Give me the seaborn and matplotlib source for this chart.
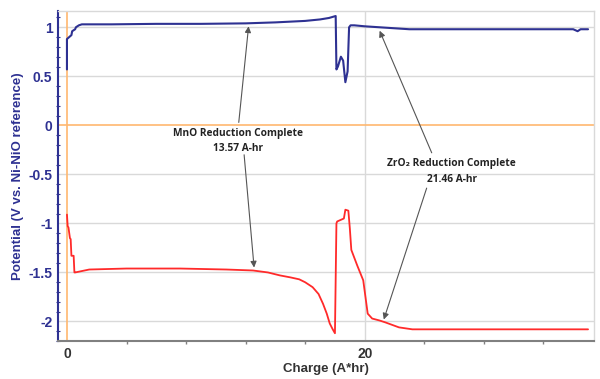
import matplotlib
matplotlib.use("Agg")
import matplotlib.pyplot as plt
import seaborn as sns
import pandas as pd
import numpy as np
from matplotlib.ticker import MultipleLocator, FixedLocator

# ---- data ----
blue_x = [0, 0, 0.15, 0.3, 0.35, 0.55, 0.6, 0.8, 1.0, 3, 6, 9, 12, 14, 16, 17, 17.6,
          18.05, 18.1, 18.2, 18.4, 18.55, 18.7, 18.85, 18.95, 19.05, 19.3, 20, 21, 22,
          23, 24.4, 27, 30, 32, 34, 34.3, 34.5, 35]
blue_y = [0.57, 0.88, 0.90, 0.92, 0.96, 0.98, 1.0, 1.02, 1.03, 1.03, 1.035, 1.035, 1.04,
          1.05, 1.065, 1.08, 1.095, 1.115, 0.57, 0.60, 0.70, 0.66, 0.44, 0.55, 1.00, 1.02,
          1.02, 1.01, 1.0, 0.99, 0.98, 0.98, 0.98, 0.98, 0.98, 0.98, 0.96, 0.98, 0.98]

red_x = [0, 0.05, 0.1, 0.2, 0.25, 0.3, 0.45, 0.5, 0.55, 1.5, 4, 7.6, 10.7, 12.5, 13.5,
         14.3, 15.0, 15.6, 16.0, 16.5, 16.9, 17.2, 17.45, 17.65, 17.85, 18.0, 18.1, 18.15,
         18.3, 18.6, 18.7, 18.9, 19.0, 19.1, 19.5, 19.9, 20.2, 20.5, 21.0, 21.4, 22.3,
         23.2, 28, 30, 35]
red_y = [-0.91, -1.03, -1.04, -1.15, -1.16, -1.33, -1.33, -1.50, -1.50, -1.47, -1.46,
         -1.46, -1.47, -1.48, -1.50, -1.53, -1.55, -1.57, -1.60, -1.65, -1.72, -1.82,
         -1.92, -2.02, -2.08, -2.12, -1.0, -0.98, -0.97, -0.95, -0.86, -0.87, -1.05,
         -1.27, -1.43, -1.58, -1.92, -1.97, -1.99, -2.01, -2.06, -2.08, -2.08, -2.08,
         -2.08]

y_ticks = [1, 0.5, 0, -0.5, -1, -1.5, -2]
y_tick_labels = ["1", "0.5", "0", "-0.5", "-1", "-1.5", "-2"]
x_ticks = [0, 20]
x_tick_labels = ["0", "20"]

mno_label = "MnO Reduction Complete\n13.57 A-hr"
zro_label = "ZrO\u2082 Reduction Complete\n21.46 A-hr"

# ---- style ----
sns.set_style("white")
plt.rcParams["font.family"] = ["Liberation Sans", "DejaVu Sans"]
plt.rcParams["axes.unicode_minus"] = False

NAVY = "#2E3192"
RED = "#FF2A2A"
ORANGE = "#FFB870"
GRID = "#D9D9D9"

fig = plt.figure(figsize=(6.0, 3.79), dpi=100)
ax = fig.add_axes([0.0967, 0.100, 0.8933, 0.872])

ax.set_xlim(-0.6, 35.4)
ax.set_ylim(-2.20, 1.17)

# grid lines
for yv in y_ticks:
    if yv != 0:
        ax.axhline(yv, color=GRID, lw=1.0, zorder=0)
ax.axvline(20, color=GRID, lw=1.0, zorder=0)
ax.axhline(0, color=ORANGE, lw=1.2, zorder=1)
ax.axvline(0, color=ORANGE, lw=1.2, zorder=1)

df_b = pd.DataFrame({"x": blue_x, "y": blue_y})
df_r = pd.DataFrame({"x": red_x, "y": red_y})
sns.lineplot(data=df_b, x="x", y="y", ax=ax, color=NAVY, lw=1.5, sort=False,
             estimator=None, zorder=3)
sns.lineplot(data=df_r, x="x", y="y", ax=ax, color=RED, lw=1.3, sort=False,
             estimator=None, zorder=3)

# spines
for s in ["top", "right"]:
    ax.spines[s].set_color(GRID)
    ax.spines[s].set_linewidth(1.0)
ax.spines["left"].set_color(NAVY)
ax.spines["left"].set_linewidth(1.5)
ax.spines["bottom"].set_color("#808080")
ax.spines["bottom"].set_linewidth(1.5)

# ticks
ax.yaxis.set_major_locator(FixedLocator(y_ticks))
ax.set_yticklabels(y_tick_labels)
ax.yaxis.set_minor_locator(MultipleLocator(0.1))
ax.xaxis.set_major_locator(FixedLocator(x_ticks))
ax.set_xticklabels(x_tick_labels)
ax.xaxis.set_minor_locator(MultipleLocator(4))
ax.tick_params(axis="y", which="major", direction="out", length=2.5, width=1,
               color=NAVY, labelcolor=NAVY, labelsize=10, pad=1.5)
ax.tick_params(axis="y", which="minor", direction="inout", length=3, width=0.8,
               color=NAVY, left=True)
ax.tick_params(axis="x", which="major", direction="out", length=2.5, width=1,
               color="#808080", labelcolor="#333333", labelsize=10, pad=1.5)
ax.tick_params(axis="x", which="minor", direction="out", length=2.5, width=1,
               color="#808080", bottom=True)
for lab in ax.get_yticklabels():
    lab.set_fontweight("bold")
for lab in ax.get_xticklabels():
    lab.set_fontweight("bold")

ax.set_ylabel("Potential (V vs. Ni-NiO reference)", color=NAVY, fontsize=9.5,
              fontweight="bold", labelpad=3)
ax.set_xlabel("Charge (A*hr)", color="#333333", fontsize=9.5, fontweight="bold",
              labelpad=1.5)

# annotations
ann_font = dict(family=["Open Sans", "DejaVu Sans"], fontsize=7.3, fontweight="bold",
                color="#222222", ha="center", va="center", linespacing=1.6)
ax.text(11.48, -0.16, mno_label, zorder=5, **ann_font)
ax.text(25.84, -0.47, zro_label, zorder=5, **ann_font)

arrow = dict(arrowstyle="-|>", color="#555555", lw=0.8, mutation_scale=9,
             shrinkA=0, shrinkB=0)
ax.annotate("", xy=(12.2, 1.01), xytext=(11.54, 0.03), arrowprops=arrow, zorder=4)
ax.annotate("", xy=(12.57, -1.45), xytext=(11.9, -0.30), arrowprops=arrow, zorder=4)
ax.annotate("", xy=(21.0, 0.965), xytext=(24.5, -0.28), arrowprops=arrow, zorder=4)
ax.annotate("", xy=(21.28, -1.98), xytext=(24.16, -0.64), arrowprops=arrow, zorder=4)

fig.savefig("out.png", dpi=100)
